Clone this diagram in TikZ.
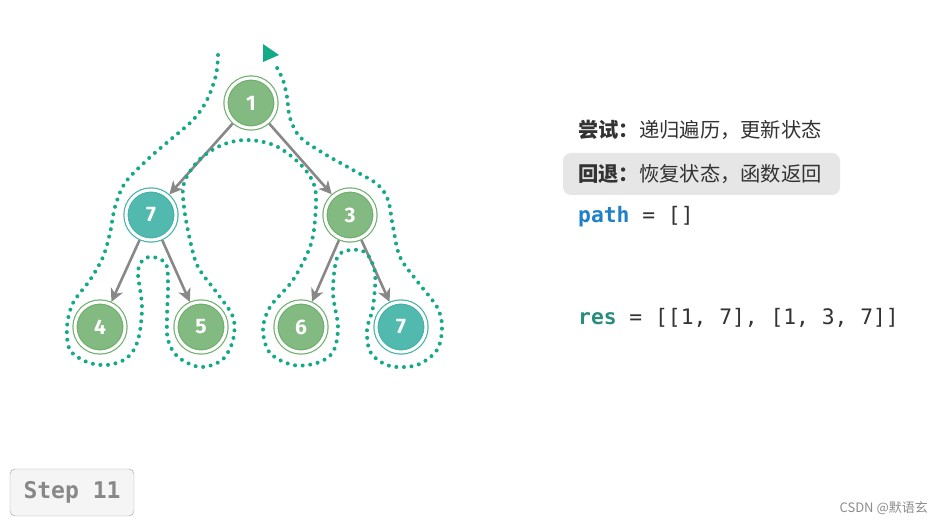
\documentclass[tikz,border=0pt]{standalone}
\usepackage{fontspec}
\usepackage{tikz}
\usetikzlibrary{arrows.meta}
\setmonofont{DejaVu Sans Mono}
\newfontfamily\cjk{Noto Sans CJK SC}
\newfontfamily\numfont{Fira Sans}
\definecolor{nodegreen}{RGB}{131,186,129}
\definecolor{ringgreen}{RGB}{112,176,110}
\definecolor{nodeteal}{RGB}{82,185,175}
\definecolor{ringteal}{RGB}{70,178,168}
\definecolor{edgegray}{RGB}{136,136,136}
\definecolor{tourteal}{RGB}{20,170,136}
\definecolor{pathblue}{RGB}{30,128,200}
\definecolor{resteal}{RGB}{42,140,124}
\definecolor{textdark}{RGB}{51,51,51}
\definecolor{boxgray}{RGB}{230,230,230}

\begin{document}
\begin{tikzpicture}[x=1pt,y=-1pt,
    treenode/.style={circle, fill=nodegreen, draw=ringgreen, double=white, double distance=3pt,
        line width=1.2pt, minimum size=50pt, inner sep=0pt, text=white,
        font=\numfont\bfseries\fontsize{21}{21}\selectfont},
    hitnode/.style={treenode, fill=nodeteal, draw=ringteal},
    treeedge/.style={draw=edgegray, line width=2.6pt, shorten <=2pt, shorten >=2pt,
        -{Stealth[length=13pt,width=13pt,inset=4pt]}},
    tour/.style={draw=tourteal, line width=4pt, line cap=round, dash pattern=on 0pt off 7.6pt},
    infotext/.style={anchor=west, inner sep=0pt, text=textdark,
        font=\cjk\fontsize{20.3}{24}\selectfont},
    codetext/.style={anchor=west, inner sep=0pt, text=textdark,
        font=\ttfamily\fontsize{21.3}{24}\selectfont}]
\useasboundingbox (0,0) rectangle (943,526);
% Nodes
\node[treenode] (1) at (251,103) {1};
\node[hitnode] (7a) at (151,215) {7};
\node[treenode] (3) at (350,215) {3};
\node[treenode] (4) at (100,327) {4};
\node[treenode] (5) at (201,327) {5};
\node[treenode] (6) at (301,327) {6};
\node[hitnode] (7b) at (401,327) {7};
% Edges
\draw[treeedge] (1) -- (7a);
\draw[treeedge] (1) -- (3);
\draw[treeedge] (7a) -- (4);
\draw[treeedge] (7a) -- (5);
\draw[treeedge] (3) -- (6);
\draw[treeedge] (3) -- (7b);
% Traversal
\draw[tour] plot[smooth, tension=0.55] coordinates {
    (218,55) (216,75) (207,100) (193,120) (170,140) (147,160) (125,183) (115,207)
    (110,233) (103,257) (90,280) (73,303) (67,327) (70,350) (87,362) (107,365)
    (127,358) (138,340) (142,307) (138,273) (143,260) (153,257) (166,264) (168,287)
    (167,317) (168,340) (178,357) (200,367) (222,360) (233,340) (233,317) (217,293)
    (198,267) (190,240) (184,207) (184,183) (199,160) (222,145) (247,140) (276,146)
    (302,166) (315,188) (315,220) (310,247) (293,280) (270,307) (263,330) (270,353)
    (293,365) (317,363) (333,352) (338,327) (333,293) (337,258) (350,250) (366,253)
    (375,273) (373,307) (367,330) (371,353) (390,366) (417,365) (437,350) (442,327)
    (437,307) (417,281) (400,257) (393,227) (388,200) (377,184) (353,170) (323,153)
    (300,137) (290,118) (287,97) (283,80) (276,66)};
\fill[tourteal] (263,44) -- (279,55) -- (263,62) -- cycle;
% Legend
\node[fill=boxgray, rounded corners=8pt, minimum width=277pt, minimum height=42pt,
    inner sep=0pt] (undobox) at (701.5,174) {};
\node[infotext] (try) at (578,130) {\textbf{尝试：}递归遍历，更新状态};
\node[infotext] (undo) at (578,174) {\textbf{回退：}恢复状态，函数返回};
\node[codetext] (path) at (578,217) {\textcolor{pathblue}{\textbf{path}} = []};
\node[codetext] (res) at (578,318) {\textcolor{resteal}{\textbf{res}} = [[1, 7], [1, 3, 7]]};
% Step
\node[draw=edgegray!80, fill=black!4, rounded corners=5pt, minimum width=124pt,
    minimum height=47pt, text=edgegray, font=\ttfamily\bfseries\fontsize{23}{26}\selectfont]
    (step) at (72,492.5) {Step 11};
\node[anchor=east, inner sep=0pt, text=black!45, font=\cjk\fontsize{13}{15}\selectfont]
    (mark) at (928,508) {CSDN @默语玄};
\end{tikzpicture}
\end{document}
